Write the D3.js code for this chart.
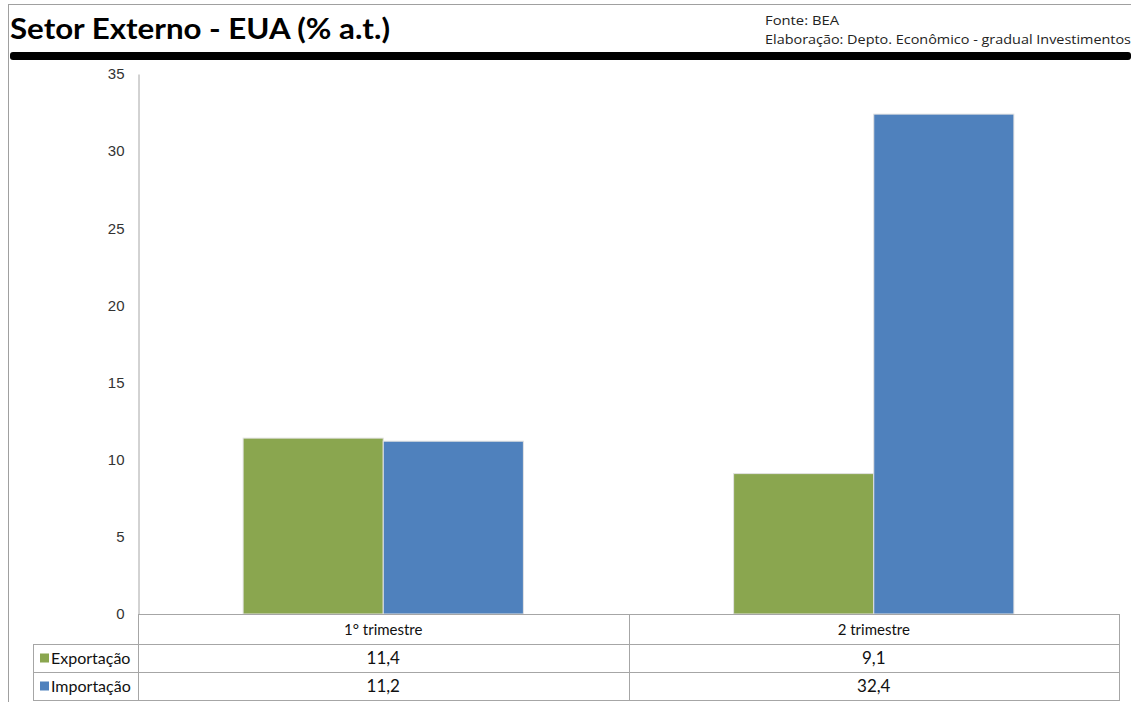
<!DOCTYPE html>
<html><head><meta charset="utf-8">
<script src="https://cdn.jsdelivr.net/npm/d3@7"></script>
<style>body{margin:0;background:#fff}svg{display:block}</style>
</head><body>
<script>
const categories = ["1° trimestre", "2 trimestre"];
const seriesNames = ["Exportação", "Importação"];
const exportacao = [11.4, 9.1];
const importacao = [11.2, 32.4];
const yTicks = [0, 5, 10, 15, 20, 25, 30, 35];
const colors = ["#8aa64f", "#4f81bd"];
const valueLabels = [["11,4", "9,1"], ["11,2", "32,4"]];

const W = 1131, H = 702;
const svg = d3.select("body").append("svg").attr("width", W).attr("height", H);

// frame
svg.append("line").attr("x1", 8).attr("x2", W).attr("y1", 4.5).attr("y2", 4.5).attr("stroke", "#a0a0a0");
svg.append("line").attr("x1", 8.5).attr("x2", 8.5).attr("y1", 4).attr("y2", H).attr("stroke", "#a0a0a0");

// title
svg.append("text").attr("x", 10).attr("y", 39).text("Setor Externo - EUA (% a.t.)")
  .attr("font-family", "Lato, 'Open Sans', sans-serif").attr("font-weight", "bold")
  .attr("font-size", 29).attr("fill", "#000").attr("textLength", 380).attr("lengthAdjust", "spacingAndGlyphs");
svg.append("text").attr("x", 765).attr("y", 25).text("Fonte: BEA")
  .attr("font-family", "'Open Sans', sans-serif").attr("font-size", 12.5).attr("fill", "#222")
  .attr("textLength", 74).attr("lengthAdjust", "spacingAndGlyphs");
svg.append("text").attr("x", 765).attr("y", 44).text("Elaboração: Depto. Econômico - gradual Investimentos")
  .attr("font-family", "'Open Sans', sans-serif").attr("font-size", 12.5).attr("fill", "#222")
  .attr("textLength", 366).attr("lengthAdjust", "spacingAndGlyphs");
svg.append("rect").attr("x", 10).attr("y", 52).attr("width", W - 10).attr("height", 8).attr("rx", 3).attr("fill", "#000");

// scales
const y = d3.scaleLinear().domain([0, 35]).range([614, 74]);
const x0 = d3.scaleBand().domain(categories).range([138, 1119]).paddingInner(0).paddingOuter(0);
const x1 = d3.scaleBand().domain(seriesNames).range([0, x0.bandwidth()]).paddingInner(0).paddingOuter(0.75);

// y axis
const yAxis = d3.axisLeft(y).tickValues(yTicks).tickSize(0).tickPadding(14).tickFormat(d3.format("d"));
const gy = svg.append("g").attr("transform", "translate(138.5,0)").call(yAxis);
gy.select(".domain").attr("stroke", "#a6a6a6");
gy.selectAll("text").attr("font-family", "'Liberation Sans', Arial, sans-serif").attr("font-size", 15).attr("fill", "#333");

// bars
const data = [exportacao, importacao];
seriesNames.forEach((s, si) => {
  svg.append("g").selectAll("rect").data(categories).join("rect")
    .attr("x", c => x0(c) + x1(s))
    .attr("y", (c, i) => y(data[si][i]))
    .attr("width", x1.bandwidth())
    .attr("height", (c, i) => y(0) - y(data[si][i]))
    .attr("fill", colors[si])
    .attr("stroke", "#e2e2e2").attr("stroke-width", 1);
});

// table
const tb = svg.append("g").attr("stroke", "#a6a6a6").attr("stroke-width", 1).attr("fill", "none");
const rowY = [614, 644, 672, 700];
const tLeft = 33, axisX = 138, tRight = 1119;
// header row lines
tb.append("line").attr("x1", axisX).attr("x2", tRight).attr("y1", rowY[0] + .5).attr("y2", rowY[0] + .5);
[1, 2, 3].forEach(i => tb.append("line").attr("x1", tLeft).attr("x2", tRight).attr("y1", rowY[i] + .5).attr("y2", rowY[i] + .5));
tb.append("line").attr("x1", tLeft + .5).attr("x2", tLeft + .5).attr("y1", rowY[1]).attr("y2", rowY[3] + 1);
tb.append("line").attr("x1", axisX + .5).attr("x2", axisX + .5).attr("y1", rowY[0]).attr("y2", rowY[3] + 1);
categories.forEach(c => {
  const xr = x0(c) + x0.bandwidth();
  tb.append("line").attr("x1", Math.round(xr) + .5).attr("x2", Math.round(xr) + .5).attr("y1", rowY[0]).attr("y2", rowY[3] + 1);
});

const font = "Lato, 'Open Sans', sans-serif";
svg.append("g").selectAll("text").data(categories).join("text")
  .attr("x", c => x0(c) + x0.bandwidth() / 2).attr("y", 635)
  .attr("text-anchor", "middle").attr("font-family", font).attr("font-size", 15).attr("fill", "#111")
  .text(c => c);
seriesNames.forEach((s, si) => {
  const cy = (rowY[si + 1] + rowY[si + 2]) / 2;
  svg.append("rect").attr("x", 40).attr("y", cy - 4.5).attr("width", 9).attr("height", 9).attr("fill", colors[si]);
  svg.append("text").attr("x", 51).attr("y", cy + 6).attr("font-family", font).attr("font-size", 16)
    .attr("fill", "#111").text(s);
  svg.append("g").selectAll("text").data(categories).join("text")
    .attr("x", c => x0(c) + x0.bandwidth() / 2).attr("y", cy + 6)
    .attr("text-anchor", "middle").attr("font-family", font).attr("font-size", 17).attr("fill", "#111")
    .text((c, i) => valueLabels[si][i]);
});
</script>
</body></html>
